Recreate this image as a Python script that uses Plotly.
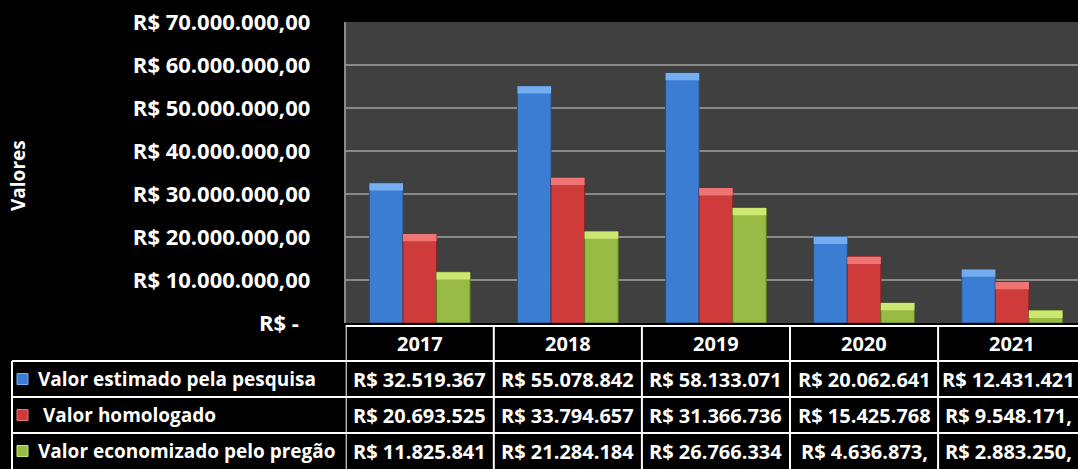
import plotly.graph_objects as go

# ---- data ----
years = ["2017", "2018", "2019", "2020", "2021"]
series_names = ["Valor estimado pela pesquisa", "\u00a0Valor homologado", "Valor economizado pelo pregão"]
estimado = [32519367, 55078842, 58133071, 20062641, 12431421]
homologado = [20693525, 33794657, 31366736, 15425768, 9548171]
economizado = [11825841, 21284184, 26766334, 4636873, 2883250]
# table cell texts as shown (Excel truncates some cells)
estimado_txt = ["R$ 32.519.367", "R$ 55.078.842", "R$ 58.133.071", "R$ 20.062.641", "R$ 12.431.421"]
homologado_txt = ["R$ 20.693.525", "R$ 33.794.657", "R$ 31.366.736", "R$ 15.425.768", "R$ 9.548.171,"]
economizado_txt = ["R$ 11.825.841", "R$ 21.284.184", "R$ 26.766.334", "R$ 4.636.873,", "R$ 2.883.250,"]
tick_vals = [0, 10e6, 20e6, 30e6, 40e6, 50e6, 60e6, 70e6]
tick_text = ["R$ -\u00a0\u00a0", "R$ 10.000.000,00", "R$ 20.000.000,00", "R$ 30.000.000,00",
             "R$ 40.000.000,00", "R$ 50.000.000,00", "R$ 60.000.000,00", "R$ 70.000.000,00"]

values = [estimado, homologado, economizado]
texts = [estimado_txt, homologado_txt, economizado_txt]
colors = ["#3b7dd3", "#cf3b3b", "#98bb45"]
caps = ["#75aef0", "#ef7474", "#cde872"]
edges = ["#24508c", "#8a2222", "#5f7a25"]

W, H = 1078, 469
FONT = "Open Sans"

def py(pix):
    return (H - pix) / H

x_left_px = 345.7
fig = go.Figure()
cap_h = 1.7e6
for i in range(3):
    fig.add_trace(go.Bar(x=years, y=values[i], name=series_names[i], offsetgroup=str(i),
                         marker=dict(color=colors[i], line=dict(color=edges[i], width=1)),
                         showlegend=False, hoverinfo="skip"))
for i in range(3):
    fig.add_trace(go.Bar(x=years, y=[cap_h] * len(years), base=[v - cap_h for v in values[i]],
                         offsetgroup=str(i), marker=dict(color=caps[i], line=dict(width=0)),
                         showlegend=False, hoverinfo="skip"))

shapes = []
annotations = []
white = "#ffffff"
# horizontal table lines
row_lines_px = [326, 361, 397, 433]
for k, yp in enumerate(row_lines_px):
    x0 = x_left_px / W if k == 0 else 12 / W
    shapes.append(dict(type="line", xref="paper", yref="paper", x0=x0, x1=1, y0=py(yp), y1=py(yp),
                       line=dict(color=white, width=2)))
# vertical lines (category boundaries)
for j in range(len(years) + 1):
    shapes.append(dict(type="line", xref="x", yref="paper", x0=j - 0.5, x1=j - 0.5,
                       y0=0, y1=py(326), line=dict(color=white, width=2)))
# legend column left border
shapes.append(dict(type="line", xref="paper", yref="paper", x0=12 / W, x1=12 / W, y0=0, y1=py(361),
                   line=dict(color=white, width=2)))

cell_font = dict(family=FONT, size=20, color=white, weight="bold")
label_font = dict(family=FONT, size=19, color=white, weight="bold")
# header texts
for j, yr in enumerate(years):
    annotations.append(dict(x=j, y=py(343.5), xref="x", yref="paper", text=yr, showarrow=False,
                            xanchor="center", yanchor="middle", font=cell_font))
row_centers_px = [379, 415, 451]
for i in range(3):
    yc = py(row_centers_px[i])
    for j in range(len(years)):
        annotations.append(dict(x=j, y=yc, xref="x", yref="paper", text=texts[i][j], showarrow=False,
                                xanchor="center", yanchor="middle", font=cell_font,
                                xshift=-4 if j == len(years) - 1 else 0))
    annotations.append(dict(x=36 / W, y=yc, xref="paper", yref="paper", xanchor="left", yanchor="middle",
                            text=series_names[i], showarrow=False, font=label_font))
    # legend key
    shapes.append(dict(type="rect", xref="paper", yref="paper", x0=17 / W, x1=28 / W,
                       y0=py(row_centers_px[i] + 5.5), y1=py(row_centers_px[i] - 5.5),
                       fillcolor=colors[i], line=dict(color=caps[i], width=1)))

annotations.append(dict(x=18 / W, y=py(176), xref="paper", yref="paper", text="Valores", textangle=-90,
                        xanchor="center", yanchor="middle",
                        showarrow=False, font=label_font))

fig.update_layout(
    width=W, height=H, margin=dict(l=0, r=0, t=0, b=0, autoexpand=False),
    paper_bgcolor="#000000", plot_bgcolor="#404040",
    barmode="group", bargap=0.32, bargroupgap=0,
    shapes=shapes, annotations=annotations,
    xaxis=dict(domain=[x_left_px / W, 1], range=[-0.5, -0.5 + (W - x_left_px) / 148.1],
               showticklabels=False, ticks="", showgrid=False, zeroline=False, showline=False,
               automargin=False),
    yaxis=dict(domain=[py(323), py(22)], range=[0, 70e6], tickvals=tick_vals, ticktext=tick_text,
               tickfont=dict(family=FONT, size=22, color=white, weight="bold"), automargin=False,
               ticklabelstandoff=29, showgrid=True, gridcolor="#8a8a8a", gridwidth=2,
               zeroline=False, showline=True, linecolor="#8a8a8a", linewidth=2, ticks=""),
)

fig.write_html("out.html", config={"displayModeBar": False},
               post_script="document.body.style.margin='0';document.body.style.overflow='hidden';"
                           "document.documentElement.style.overflow='hidden';")
